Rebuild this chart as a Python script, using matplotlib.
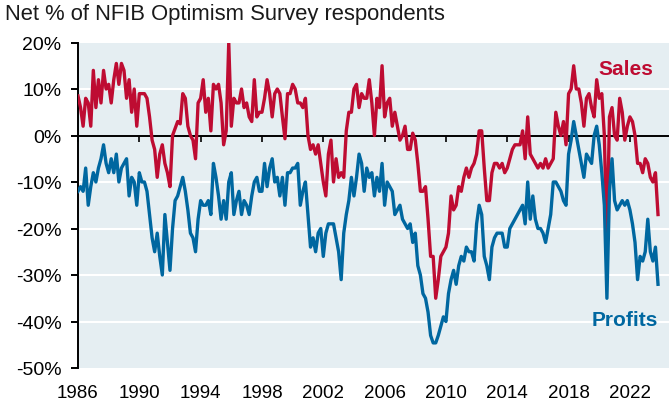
import numpy as np
import matplotlib
matplotlib.use("Agg")
import matplotlib.pyplot as plt
import matplotlib.transforms as mtransforms

plt.rcParams['font.family'] = ['Liberation Sans', 'DejaVu Sans']

# bimonthly readings, Jan 1986 .. Nov 2023 (6 per year)
sales = [
    8.5, 6, 2, 8, 7, 2,            # 1986
    14, 6, 12, 7, 14, 10,          # 1987
    11, 7, 12, 15.5, 11, 15.5,     # 1988
    14, 8, 12, 5, 10, 2,           # 1989
    9, 9, 9, 8, 4, -1,             # 1990
    -3, -9, -4, -2, -6, -8,        # 1991
    -11, 0, 1.5, 3, 2.5, 9,        # 1992
    8, 2, 0, -1, -5, 7,            # 1993
    8, 12, 5, 8, 1, 11,            # 1994
    10, 11, 7, -2, 1, 20,          # 1995
    2, 8, 7, 7, 10, 6,             # 1996
    7, 4, 3, 12, 4, 5,             # 1997
    5, 8, 12, 9, 4, 9,             # 1998
    10, 9, 4, -0.7, 9, 9,          # 1999
    11, 10, 7, 7, 6, 8,            # 2000
    0, -3, -2, -4, -2, -6,         # 2001
    -10, -13, -4, -1, -10, -5,     # 2002
    -9, -8, -9, 1, 5, 5,           # 2003
    10, 11, 6, 9, 8, 8,            # 2004
    12, 7, 0, 8, 6, 15,            # 2005
    4, 7, 8, 2, 5, 2,              # 2006
    -1, 0, 2, -3, -3, 0.5,         # 2007
    -1, -6, -12, -12, -11, -18,    # 2008
    -26, -26, -35, -31, -26, -25,  # 2009
    -24, -21, -13, -16, -15, -11,  # 2010
    -12, -9, -7, -9, -7, -6,       # 2011
    -4, 1, 1, -7, -14, -14,        # 2012
    -8, -6, -6, -7, -6, -8,        # 2013
    -7, -5, -3, -2, -2, -2,        # 2014
    1, -5, 4, -4, -5, -6,          # 2015
    -7, -6, -7, -5, -7, -6,        # 2016
    -5, 5, 2, 0, 3, -2,            # 2017
    9, 10, 15, 10, 10, 7,          # 2018
    2, 8, 9, 6, 4, 12,             # 2019
    8, 9, 0, -24, 4, 6,            # 2020
    0, -1, 8, 5, -1, 2,            # 2021
    4, 3, 0, -6, -6, -8,           # 2022
    -5, -6, -9, -10, -8, -17,      # 2023
]

profits = [
    -12, -11, -12, -7, -15, -11,   # 1986
    -8, -10, -7, -5, -2, -6,       # 1987
    -8, -5, -8, -4, -10, -7,       # 1988
    -6, -5, -13, -9, -10, -15,     # 1989
    -8, -10, -10, -12, -17, -22,   # 1990
    -25, -21, -26, -30, -17, -23,  # 1991
    -29, -20, -14, -13, -11, -9,   # 1992
    -12, -16, -21, -22, -25, -18,  # 1993
    -14, -15, -15, -14, -17, -6,   # 1994
    -9, -13, -18, -14, -18, -10,   # 1995
    -8, -17, -14, -12, -17, -14,   # 1996
    -15, -17, -13, -10, -9, -12,   # 1997
    -12, -6, -11, -7, -5, -10,     # 1998
    -9, -13, -9, -15, -8, -8,      # 1999
    -7, -7, -6, -15, -12, -10,     # 2000
    -17, -24, -22, -25, -21, -20,  # 2001
    -26, -21, -19, -19, -19, -22,  # 2002
    -25, -31, -21, -17, -14, -9,   # 2003
    -13, -9, -4, -6, -12, -7,      # 2004
    -9, -8, -13, -9, -12, -6,      # 2005
    -15, -10, -11, -12, -17, -16,  # 2006
    -15, -18, -19, -20, -19, -23,  # 2007
    -21, -28, -30, -34, -35, -38,  # 2008
    -43, -44.6, -44.6, -43, -41, -39,  # 2009
    -40, -34, -31, -29, -32, -28,  # 2010
    -26, -27, -24, -25, -25, -27,  # 2011
    -19, -15, -17, -26, -28, -31,  # 2012
    -24, -22, -21, -21, -21, -24,  # 2013
    -24, -20, -19, -18, -17, -16,  # 2014
    -15, -19, -10, -18, -13, -18,  # 2015
    -20, -20, -21, -23, -20, -17,  # 2016
    -10, -10, -11, -12, -14, -15,  # 2017
    -4, -1, 3, 0, -3, -6,          # 2018
    -9, -4, -5, -6, 0, 2,          # 2019
    -2, -8, -15, -35, -12, -5,     # 2020
    -14, -16, -15, -14, -15, -14,  # 2021
    -16, -19, -23, -31, -26, -27,  # 2022
    -25, -18, -25, -27, -24, -32,  # 2023
]

start_year = 1986
x_years = start_year + np.arange(len(sales)) / 6.0

year_ticks = list(range(1986, 2023, 4))
y_ticks = [20, 10, 0, -10, -20, -30, -40, -50]

red = '#BE0C32'
blue = '#0067A0'
bg = '#E5EEF2'

fig = plt.figure(figsize=(6.69, 4.06), dpi=100)
ax = fig.add_axes([78 / 669, 1 - 369 / 406, 1 - 78 / 669, (369 - 43.5) / 406])
ax.set_facecolor(bg)

ax.set_xlim(1986, 2024.55)
ax.set_ylim(-50, 20)

for yv in y_ticks:
    if yv not in (0, 20, -50):
        ax.axhline(yv, color='white', lw=1.5, zorder=1)

ax.plot(x_years, sales, color=red, lw=2.4, solid_joinstyle='round', zorder=3)
ax.plot(x_years, profits, color=blue, lw=2.4, solid_joinstyle='round', zorder=3)

for s in ['top', 'right']:
    ax.spines[s].set_visible(False)
ax.spines['left'].set_linewidth(1.4)
ax.spines['bottom'].set_position(('data', 0))
ax.spines['bottom'].set_linewidth(1.4)
ax.spines['bottom'].set_zorder(2)

ax.set_yticks(y_ticks)
ax.set_yticklabels(['%d%%' % v for v in y_ticks])
ax.tick_params(axis='y', direction='out', length=4.8, width=1.4, labelsize=14, pad=7)
ax.set_xticks(year_ticks)
ax.tick_params(axis='x', direction='out', length=4, width=1.2, labelbottom=False)

trans = mtransforms.blended_transform_factory(ax.transData, ax.transAxes)
for yr in year_ticks:
    ax.text(yr, -0.074, str(yr), transform=trans, ha='center', va='center', fontsize=13.5)

fig.text(5 / 669, 1 - 20 / 406, 'Net % of NFIB Optimism Survey respondents',
         ha='left', va='baseline', fontsize=15.8, color='#1a1a1a')

ax.text(2023.5, 14.5, 'Sales', color=red, fontsize=15, fontweight='bold', ha='right', va='center')
ax.text(2023.85, -39.5, 'Profits', color=blue, fontsize=15, fontweight='bold', ha='right', va='center')

fig.savefig('out.png', dpi=100)
